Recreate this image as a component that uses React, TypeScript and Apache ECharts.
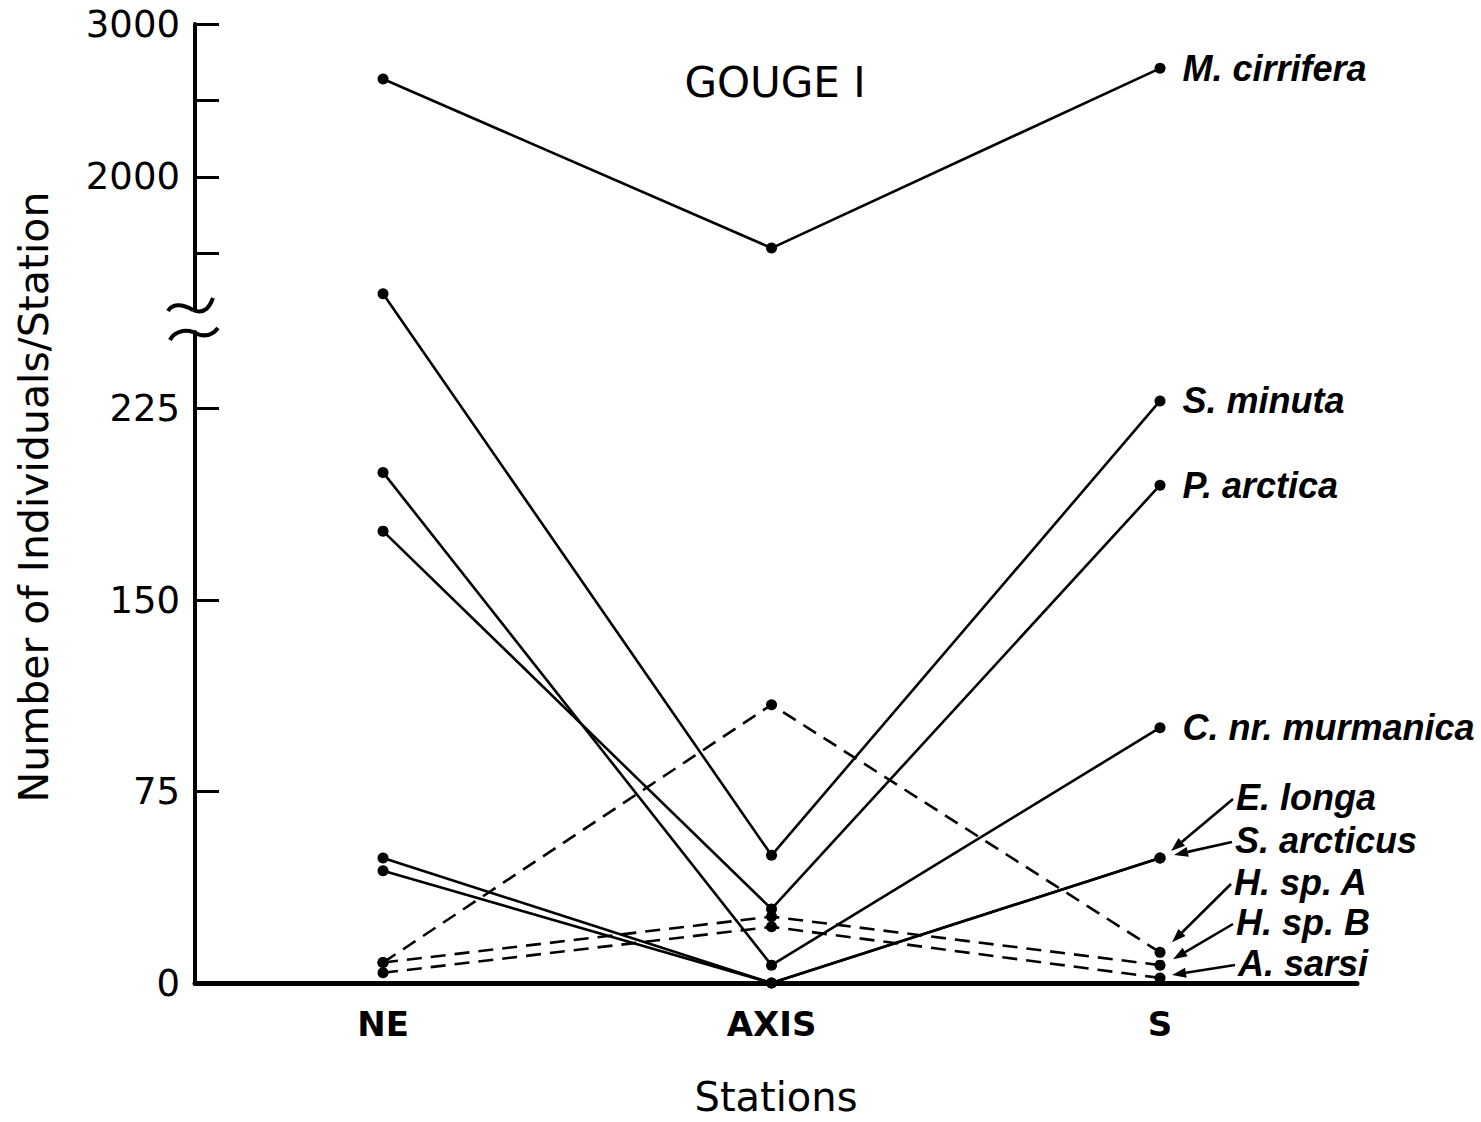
import React, { useEffect, useRef } from "react";
import * as echarts from "echarts";

// Stations along the gouge transect, placed at 1, 2, 3 on the x scale
const stations = ["NE", "AXIS", "S"];
const stationPos = [1, 2, 3];

// Individuals per station for each species
const mCirrifera = [2640, 1535, 2710];
const sMinuta = [270, 50, 228];
const pArctica = [177, 29, 195];
const cMurmanica = [200, 7, 100];
const eLonga = [49, 0, 49];
const sArcticus = [44, 0, 49];
const hSpA = [8, 109, 12];
const hSpB = [8, 26, 7];
const aSarsi = [4, 22, 2];

// Broken y axis: lower panel 0..255, upper panel 1130..3000
const lowerTicks = [0, 75, 150, 225];
const upperTicks = [1500, 2000, 2500, 3000];
const upperLabels = [2000, 3000];

const FONT = "DejaVu Sans";
const LABEL_FONT = "Liberation Sans";

type Spec = {
  name: string;
  values: number[];
  dashed: boolean;
  upper: boolean;
  endLabel: boolean;
};

const specs: Spec[] = [
  { name: "M. cirrifera", values: mCirrifera, dashed: false, upper: true, endLabel: true },
  { name: "S. minuta", values: sMinuta, dashed: false, upper: false, endLabel: true },
  { name: "P. arctica", values: pArctica, dashed: false, upper: false, endLabel: true },
  { name: "C. nr. murmanica", values: cMurmanica, dashed: false, upper: false, endLabel: true },
  { name: "E. longa", values: eLonga, dashed: false, upper: false, endLabel: false },
  { name: "S. arcticus", values: sArcticus, dashed: false, upper: false, endLabel: false },
  { name: "H. sp. A", values: hSpA, dashed: true, upper: false, endLabel: false },
  { name: "H. sp. B", values: hSpB, dashed: true, upper: false, endLabel: false },
  { name: "A. sarsi", values: aSarsi, dashed: true, upper: false, endLabel: false },
];

// Callout labels at the S station: text anchor and arrow tip offset from the dot
const callouts = [
  { series: 4, tx: 1236, ty: 797, dx: 11, dy: -7 },
  { series: 5, tx: 1235, ty: 840, dx: 14, dy: -3 },
  { series: 6, tx: 1234, ty: 882, dx: 12, dy: -10 },
  { series: 7, tx: 1236, ty: 922, dx: 13, dy: -6 },
  { series: 8, tx: 1238, ty: 963, dx: 12, dy: -3 },
];

const labelStyle = {
  fontFamily: LABEL_FONT,
  fontStyle: "italic" as const,
  fontWeight: "bold" as const,
  fontSize: 36,
  color: "#000",
};

function App() {
  const ref = useRef<HTMLDivElement>(null);

  useEffect(() => {
    if (!ref.current) return;
    const chart = echarts.init(ref.current, undefined, { renderer: "svg" });

    const xCommon = {
      type: "value" as const,
      min: 0.516,
      max: 3.507,
      splitLine: { show: false },
    };

    const yAxisCommon = {
      type: "value" as const,
      splitLine: { show: false },
      axisLine: { show: true, onZero: false, lineStyle: { color: "#000", width: 4 } },
      axisLabel: {
        fontFamily: FONT,
        fontSize: 37,
        color: "#000",
        margin: 15,
        formatter: (v: number) => String(v),
      },
    };

    const series = specs.map((s, si) => ({
      type: "line" as const,
      name: s.name,
      xAxisIndex: s.upper ? 1 : 0,
      yAxisIndex: s.upper ? 1 : 0,
      clip: false,
      symbol: "circle",
      symbolSize: 11,
      itemStyle: { color: "#000" },
      lineStyle: {
        color: "#000",
        width: 2.6,
        type: s.dashed ? [15, 9] : "solid",
      },
      label: {
        show: false,
        position: "right" as const,
        distance: 17,
        formatter: s.name,
        ...labelStyle,
      },
      z: 3 + si,
      data: s.values.map((v, i) => ({
        value: [stationPos[i], v],
        label: { show: s.endLabel && i === s.values.length - 1 },
      })),
    }));

    const staticGraphics: any[] = [
      {
        type: "text",
        silent: true,
        style: {
          text: "GOUGE I",
          x: 775,
          y: 82,
          align: "center",
          verticalAlign: "middle",
          fontFamily: FONT,
          fontSize: 42,
          fill: "#000",
        },
      },
      {
        type: "text",
        silent: true,
        x: 34,
        y: 497,
        rotation: Math.PI / 2,
        style: {
          text: "Number of Individuals/Station",
          x: 0,
          y: 0,
          align: "center",
          verticalAlign: "middle",
          fontFamily: FONT,
          fontSize: 41,
          fill: "#000",
        },
      },
      // break marks on the y axis
      {
        type: "bezierCurve",
        silent: true,
        shape: { x1: 168, y1: 311, cpx1: 172, cpy1: 304, cpx2: 181, cpy2: 303, x2: 193, y2: 310 },
        style: { stroke: "#000", lineWidth: 4, fill: "none" },
      },
      {
        type: "bezierCurve",
        silent: true,
        shape: { x1: 193, y1: 310, cpx1: 205, cpy1: 315, cpx2: 210, cpy2: 306, x2: 213, y2: 298 },
        style: { stroke: "#000", lineWidth: 4, fill: "none" },
      },
      {
        type: "bezierCurve",
        silent: true,
        shape: { x1: 170, y1: 340, cpx1: 174, cpy1: 332, cpx2: 184, cpy2: 329, x2: 193, y2: 332 },
        style: { stroke: "#000", lineWidth: 4, fill: "none" },
      },
      {
        type: "bezierCurve",
        silent: true,
        shape: { x1: 193, y1: 332, cpx1: 202, cpy1: 337, cpx2: 211, cpy2: 337, x2: 218, y2: 328 },
        style: { stroke: "#000", lineWidth: 4, fill: "none" },
      },
    ];

    chart.setOption({
      animation: false,
      backgroundColor: "#fff",
      grid: [
        { left: 195, width: 1162, top: 332, height: 656 },
        { left: 195, width: 1162, top: 24, height: 286 },
      ],
      xAxis: [
        {
          ...xCommon,
          gridIndex: 0,
          axisLine: { show: true, onZero: false, lineStyle: { color: "#000", width: 5 } },
          axisTick: { show: false },
          axisLabel: {
            customValues: stationPos,
            formatter: (v: number) => stations[Math.round(v) - 1] ?? "",
            fontFamily: FONT,
            fontWeight: "bold",
            fontSize: 34,
            color: "#000",
            margin: 24,
          },
          name: "Stations",
          nameLocation: "middle",
          nameGap: 94,
          nameTextStyle: { fontFamily: FONT, fontSize: 40, color: "#000" },
        },
        { ...xCommon, gridIndex: 1, show: false },
      ],
      yAxis: [
        {
          ...yAxisCommon,
          gridIndex: 0,
          min: 0,
          max: 255,
          axisTick: {
            show: true,
            inside: true,
            length: 24,
            customValues: lowerTicks,
            lineStyle: { color: "#000", width: 3 },
          },
          axisLabel: { ...yAxisCommon.axisLabel, customValues: lowerTicks },
        },
        {
          ...yAxisCommon,
          gridIndex: 1,
          min: 1130,
          max: 3000,
          axisTick: {
            show: true,
            inside: true,
            length: 24,
            customValues: upperTicks,
            lineStyle: { color: "#000", width: 3 },
          },
          axisLabel: { ...yAxisCommon.axisLabel, customValues: upperLabels },
        },
      ],
      series,
      graphic: staticGraphics,
    });

    // Callout arrows pointing at the S-station dots
    const arrowGraphics: any[] = [];
    callouts.forEach((c) => {
      const s = specs[c.series];
      const dot = chart.convertToPixel({ seriesIndex: c.series }, [
        stationPos[2],
        s.values[2],
      ]) as number[];
      const tipX = dot[0] + c.dx;
      const tipY = dot[1] + c.dy;
      const tailX = c.tx - 3;
      const tailY = c.ty + 2;
      const len = Math.hypot(tipX - tailX, tipY - tailY);
      const ux = (tipX - tailX) / len;
      const uy = (tipY - tailY) / len;
      const headLen = 14;
      const headW = 5;
      const bx = tipX - ux * headLen;
      const by = tipY - uy * headLen;
      const px = -uy;
      const py = ux;
      arrowGraphics.push(
        {
          type: "line",
          silent: true,
          shape: { x1: tailX, y1: tailY, x2: bx, y2: by },
          style: { stroke: "#000", lineWidth: 2.6 },
        },
        {
          type: "polygon",
          silent: true,
          shape: {
            points: [
              [tipX, tipY],
              [bx + px * headW, by + py * headW],
              [bx - px * headW, by - py * headW],
            ],
          },
          style: { fill: "#000" },
        },
        {
          type: "text",
          silent: true,
          style: {
            text: s.name,
            x: c.tx,
            y: c.ty,
            verticalAlign: "middle",
            fontFamily: LABEL_FONT,
            fontStyle: "italic",
            fontWeight: "bold",
            fontSize: 36,
            fill: "#000",
          },
        }
      );
    });

    chart.setOption({ graphic: [...staticGraphics, ...arrowGraphics] });

    return () => chart.dispose();
  }, []);

  return (
    <div
      ref={ref}
      style={{ position: "fixed", left: 0, top: 0, width: 1481, height: 1122, background: "#fff" }}
    />
  );
}

export default App;
